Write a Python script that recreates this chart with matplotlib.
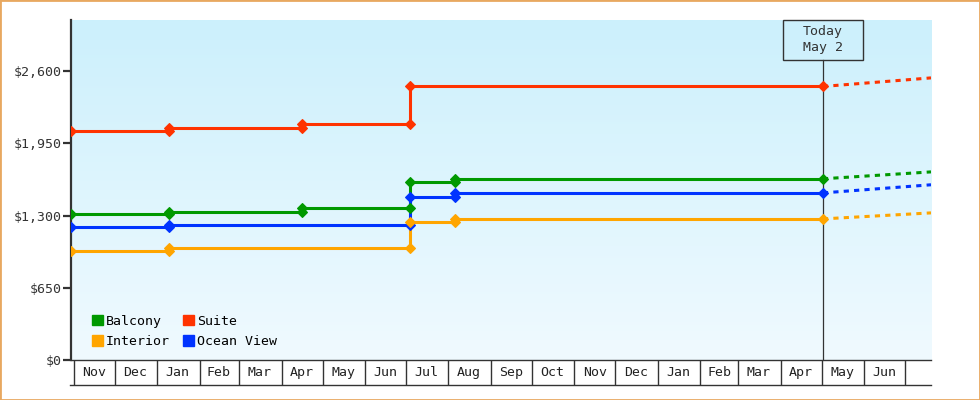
import datetime as dt
import numpy as np
import matplotlib
matplotlib.use('Agg')
import matplotlib.pyplot as plt
import matplotlib.dates as mdates
from matplotlib.patches import Patch, Rectangle
from matplotlib.colors import LinearSegmentedColormap
from matplotlib.ticker import FuncFormatter
from matplotlib.transforms import blended_transform_factory

plt.rcParams['font.family'] = ['DejaVu Sans Mono']

# fare history: date of each price change and the new fare
suite_dates = ['2023-10-30', '2024-01-10', '2024-04-16', '2024-07-04']
suite_prices = [2060, 2085, 2127, 2462]
balcony_dates = ['2023-10-30', '2024-01-10', '2024-04-16', '2024-07-04', '2024-08-06']
balcony_prices = [1311, 1336, 1369, 1606, 1631]
ocean_dates = ['2023-10-30', '2024-01-10', '2024-07-04', '2024-08-06']
ocean_prices = [1198, 1216, 1471, 1504]
interior_dates = ['2023-10-30', '2024-01-10', '2024-07-04', '2024-08-06']
interior_prices = [981, 1011, 1245, 1270]

# projection after today
today = '2025-05-02'
proj_end = '2025-07-20'
suite_proj = 2539
balcony_proj = 1693
ocean_proj = 1577
interior_proj = 1324

x_start = '2023-10-30'
y_ticks = [0, 650, 1300, 1950, 2600]
y_max = 3060

GREEN = '#009900'
RED = '#ff3300'
ORANGE = '#ffa500'
BLUE = '#0033ff'
DARK = '#333333'

def d(s):
    return dt.date.fromisoformat(s)

series = [
    ('Suite', RED, suite_dates, suite_prices, suite_proj),
    ('Balcony', GREEN, balcony_dates, balcony_prices, balcony_proj),
    ('Ocean View', BLUE, ocean_dates, ocean_prices, ocean_proj),
    ('Interior', ORANGE, interior_dates, interior_prices, interior_proj),
]

fig = plt.figure(figsize=(9.8, 4.0), dpi=100)
ax = fig.add_axes([71 / 980, 40 / 400, 860 / 980, 340 / 400])

# background gradient
grad = np.linspace(0, 1, 256).reshape(-1, 1)
cmap = LinearSegmentedColormap.from_list('bg', ['#f0faff', '#ccf0fc'])
ax.imshow(grad, extent=[0, 1, 0, 1], transform=ax.transAxes, aspect='auto',
          cmap=cmap, origin='lower', zorder=0)

for label, color, dates, prices, proj in series:
    xs = [d(s) for s in dates] + [d(today)]
    ys = prices + [prices[-1]]
    ax.plot(xs, ys, drawstyle='steps-post', color=color, lw=2.2, zorder=3)
    # markers before and after every change
    mx, my = [xs[0]], [prices[0]]
    for i in range(1, len(prices)):
        mx += [xs[i], xs[i]]
        my += [prices[i - 1], prices[i]]
    mx.append(d(today))
    my.append(prices[-1])
    ax.plot(mx, my, 'D', ms=4.8, color=color, mec=color, mew=0.8, zorder=4)
    ax.plot([d(today), d(proj_end)], [prices[-1], proj], color=color, lw=2.2,
            ls=(0, (1.7, 1.7)), zorder=3)

xmin, xmax = d(x_start), d(proj_end)
ax.set_xlim(xmin, xmax)
ax.set_ylim(0, y_max)

# today marker line and box
tx = (mdates.date2num(d(today)) - mdates.date2num(xmin)) / (mdates.date2num(xmax) - mdates.date2num(xmin))
box_w, box_h = 80 / 860, 40 / 340
ax.axvline(d(today), ymin=0, ymax=1 - box_h, color=DARK, lw=0.9, zorder=2)
ax.add_patch(Rectangle((tx - box_w / 2, 1 - box_h), box_w, box_h, transform=ax.transAxes,
                       fill=False, ec=DARK, lw=1.0, zorder=5, clip_on=False))
ax.text(tx, 1 - box_h / 2, 'Today\nMay 2', transform=ax.transAxes, ha='center', va='center',
        fontsize=9.5, color=DARK, linespacing=1.3, zorder=6)

# axes styling
for side in ['top', 'right']:
    ax.spines[side].set_visible(False)
ax.spines['left'].set_color(DARK)
ax.spines['left'].set_linewidth(1.6)
ax.spines['bottom'].set_color(DARK)
ax.spines['bottom'].set_linewidth(1.0)
ax.set_yticks(y_ticks)
ax.yaxis.set_major_formatter(FuncFormatter(lambda v, p: f'${v:,.0f}'))
ax.tick_params(axis='y', length=6, width=1.6, color=DARK, labelsize=9.5, labelcolor=DARK, pad=1)
ax.set_xticks([])

# month cells under the axis
trans = blended_transform_factory(ax.transData, ax.transAxes)
cell_h = 25 / 340
bounds = []
y, m = 2023, 11
while (y, m) <= (2025, 7):
    bounds.append(dt.date(y, m, 1))
    m += 1
    if m > 12:
        y, m = y + 1, 1
ax.vlines(bounds, -cell_h, 0, transform=trans, color=DARK, lw=1.0, clip_on=False)
ax.plot([-1 / 860, 1], [-cell_h, -cell_h], transform=ax.transAxes, color=DARK, lw=1.0, clip_on=False)
for a, b in zip(bounds[:-1], bounds[1:]):
    mid = a + (b - a) / 2
    ax.text(mid, -cell_h / 2, a.strftime('%b'), transform=trans, ha='center', va='center',
            fontsize=9.5, color='#222222')

# legend
handles = [Patch(color=GREEN, label='Balcony'), Patch(color=ORANGE, label='Interior'),
           Patch(color=RED, label='Suite'), Patch(color=BLUE, label='Ocean View')]
ax.legend(handles=handles, ncol=2, loc='lower left', bbox_to_anchor=(21 / 860, 12 / 340),
          frameon=False, fontsize=9.5, handlelength=0.85, handleheight=0.85,
          handletextpad=0.2, columnspacing=1.0, labelspacing=0.55, borderpad=0, borderaxespad=0)

# outer border
fig.add_artist(Rectangle((0, 0), 1, 1, transform=fig.transFigure, fill=False,
                         ec='#e8a860', lw=2.0))

fig.savefig('out.png', dpi=100)
